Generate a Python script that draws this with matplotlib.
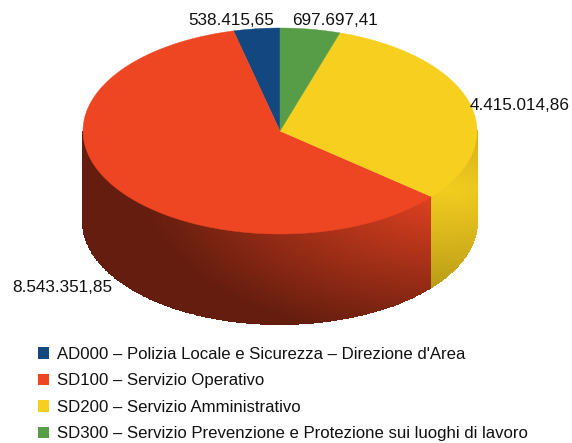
"""
3D looking pie of costs per department.
"""

import matplotlib as mpl
import matplotlib.pyplot as plt
import numpy as np
from matplotlib.patches import Patch

mpl.rcParams['font.family'] = ['Liberation Sans', 'DejaVu Sans']

labels = ['AD000 – Polizia Locale e Sicurezza – Direzione d\'Area',
          'SD100 – Servizio Operativo',
          'SD200 – Servizio Amministrativo',
          'SD300 – Servizio Prevenzione e Protezione sui luoghi di lavoro']
values = [538415.65, 8543351.85, 4415014.86, 697697.41]
colors = ['#13477f', '#ee4522', '#f7d01f', '#579d47']
label_pos = [(231, 20), (62, 287), (520, 105), (335, 20)]

cx, cy = 280, 131
rx, ry = 197, 103
depth = 90


def fmt(v):
    s = f'{v:,.2f}'
    return s.replace(',', ' ').replace('.', ',').replace(' ', '.')


def point(a, dy=0):
    # a is the angle from the top, going anticlockwise
    return cx - rx * np.sin(a), cy - ry * np.cos(a) + dy


def shade(x, y):
    d = np.sqrt(((x - 450) / 250)**2 + ((y - 190) / 125)**2)
    return np.clip(0.97 - 0.45 * d, 0.42, 1)


def main():
    fig = plt.figure(figsize=(5.72, 4.43), dpi=100)
    ax = fig.add_axes([0, 0, 1, 1])
    ax.set_xlim(0, 572)
    ax.set_ylim(443, 0)
    ax.axis('off')

    edges = np.cumsum([0] + values) / sum(values) * 2 * np.pi

    # side wall, only the front half can be seen
    for i, c in enumerate(colors):
        a0 = max(edges[i], np.pi / 2)
        a1 = min(edges[i + 1], 3 * np.pi / 2)
        if a1 <= a0:
            continue
        a = np.linspace(a0, a1, 300)
        t = np.linspace(0, depth, 50)
        x = np.outer(cx - rx * np.sin(a), np.ones_like(t))
        y = np.outer(cy - ry * np.cos(a), np.ones_like(t)) + t
        xm = (x[:-1, :-1] + x[1:, 1:]) / 2
        ym = (y[:-1, :-1] + y[1:, 1:]) / 2
        rgb = np.array(mpl.colors.to_rgb(c))
        s = shade(xm, ym)[..., None]
        if i == 2:
            # the yellow wall stays lighter
            s = s**0.6
        ax.pcolormesh(x, y, s * rgb, shading='flat', edgecolors='face',
                      linewidth=0.3, rasterized=True)

    # top face
    for i, c in enumerate(colors):
        a = np.linspace(edges[i], edges[i + 1], 200)
        x, y = point(a)
        ax.fill(np.r_[cx, x], np.r_[cy, y], color=c, lw=0.3, zorder=3)

    for v, (x, y) in zip(values, label_pos):
        ax.text(x, y, fmt(v), fontsize=12.3, ha='center', va='center',
                color='#111111', zorder=4)

    handles = [Patch(color=c, lw=0) for c in colors]
    ax.legend(handles, labels, loc='upper left', bbox_to_anchor=(38, 347),
              bbox_transform=ax.transData, frameon=False, fontsize=12.05,
              handlelength=0.68, handleheight=0.68, handletextpad=0.45,
              labelspacing=0.685, borderpad=0, borderaxespad=0,
              labelcolor='#111111')

    fig.savefig('out.png', dpi=100)


if __name__ == '__main__':
    main()
